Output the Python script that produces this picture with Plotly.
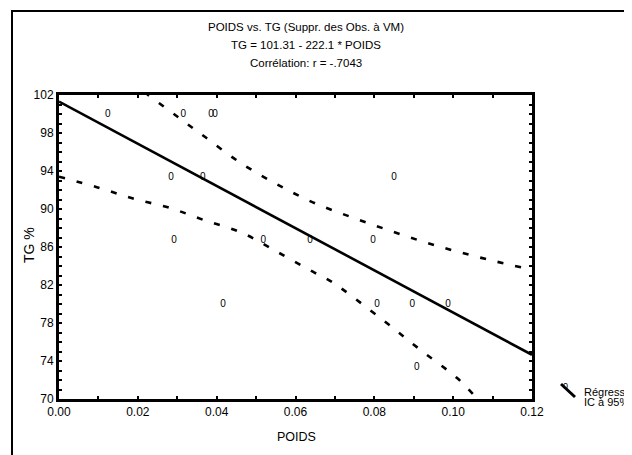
import plotly.graph_objects as go

# ---- data ----
poids = [0.0124, 0.0315, 0.0386, 0.0396,
         0.0284, 0.0365, 0.0850,
         0.0292, 0.0518, 0.0637, 0.0797,
         0.0416, 0.0807, 0.0896, 0.0987,
         0.0908]
tg = [100.0, 100.0, 100.0, 100.0,
      93.3, 93.3, 93.3,
      86.7, 86.7, 86.7, 86.7,
      80.0, 80.0, 80.0, 80.0,
      73.3]

intercept = 101.31
slope = -222.1
reg_x = [0.0, 0.12]

ci_upper_x = [0.018, 0.0223, 0.0327, 0.0370, 0.0459, 0.0553, 0.0644, 0.0738, 0.0827, 0.0921, 0.1012, 0.1106, 0.1200]
ci_upper_y = [103.4, 102.1, 98.9, 97.6, 94.9, 92.6, 90.7, 89.2, 87.9, 86.6, 85.5, 84.5, 83.6]
ci_lower_x = [0.0, 0.0096, 0.0188, 0.0282, 0.0370, 0.0464, 0.0553, 0.0644, 0.0693, 0.0822, 0.0916, 0.1010, 0.1063, 0.1080]
ci_lower_y = [93.4, 92.3, 91.1, 90.1, 88.8, 87.5, 85.5, 83.4, 82.3, 78.3, 75.2, 72.2, 70.0, 69.4]

x_ticks = [0.00, 0.02, 0.04, 0.06, 0.08, 0.10, 0.12]
y_ticks = [70, 74, 78, 82, 86, 90, 94, 98, 102]

title_lines = ["POIDS vs. TG (Suppr. des Obs. à VM)",
               "TG = 101.31 - 222.1 * POIDS",
               "Corrélation: r = -.7043"]
legend_labels = ["Régression", "IC à 95%"]

# ---- layout geometry (page pixels; the page body adds an 8px margin) ----
OFF = 8
W, H = 632 - OFF, 455 - OFF
L, R, T, B = 59 - OFF, 532 - OFF, 95 - OFF, 399 - OFF
FONT = "Liberation Sans Narrow, Arial Narrow, Liberation Sans, Arial, sans-serif"


def px(x):
    return (x - OFF - L) / (R - L)


def py(y):
    return (B - (y - OFF)) / (B - T)


fig = go.Figure()

reg_y = [intercept + slope * v for v in reg_x]
fig.add_trace(go.Scatter(x=reg_x, y=reg_y, mode="lines",
                         line=dict(color="black", width=2.6), hoverinfo="skip"))
fig.add_trace(go.Scatter(x=ci_upper_x, y=ci_upper_y, mode="lines",
                         line=dict(color="black", width=2.6, dash="6px,12px", shape="spline"),
                         hoverinfo="skip"))
fig.add_trace(go.Scatter(x=ci_lower_x, y=ci_lower_y, mode="lines",
                         line=dict(color="black", width=2.6, dash="6px,12px", shape="spline"),
                         hoverinfo="skip"))
fig.add_trace(go.Scatter(x=poids, y=tg, mode="text", text=["0"] * len(poids),
                         textposition="middle center",
                         textfont=dict(family=FONT, size=10, color="black"),
                         cliponaxis=False))

annotations = []
for i, t in enumerate(title_lines):
    annotations.append(dict(x=px(306), y=py(27 + 18 * i), xref="paper", yref="paper",
                            text=t, showarrow=False, xanchor="center", yanchor="middle",
                            font=dict(family=FONT, size=11.5, color="black")))
annotations.append(dict(x=px(296), y=py(437), xref="paper", yref="paper", text="POIDS",
                        showarrow=False, xanchor="center", yanchor="middle",
                        font=dict(family=FONT, size=12.5, color="black")))
annotations.append(dict(x=px(29), y=py(245), xref="paper", yref="paper", text="TG %",
                        showarrow=False, xanchor="center", yanchor="middle", textangle=-90,
                        font=dict(family=FONT, size=14, color="black")))
for i, t in enumerate(legend_labels):
    annotations.append(dict(x=px(582), y=py(392 + 10 * i), xref="paper", yref="paper",
                            text=t, showarrow=False, xanchor="left", yanchor="middle",
                            font=dict(family=FONT, size=11, color="black")))
annotations.append(dict(x=px(565), y=py(386), xref="paper", yref="paper", text="0",
                        showarrow=False, xanchor="center", yanchor="middle",
                        font=dict(family=FONT, size=9, color="black")))

shapes = [
    # outer frame (continues past the right and bottom edges)
    dict(type="rect", xref="paper", yref="paper", x0=px(12), x1=px(700), y0=py(600), y1=py(11),
         line=dict(color="black", width=2), fillcolor="rgba(0,0,0,0)", layer="above"),
    # legend symbol
    dict(type="line", xref="paper", yref="paper", x0=px(561), y0=py(384), x1=px(575), y1=py(397),
         line=dict(color="black", width=3)),
]

axis_common = dict(showline=True, linecolor="black", linewidth=3, mirror="ticks",
                   ticks="inside", ticklen=3, tickwidth=2, tickcolor="black",
                   showgrid=False, zeroline=False,
                   tickfont=dict(family=FONT, size=12, color="black"))

fig.update_layout(
    width=W, height=H,
    margin=dict(l=L, r=W - R, t=T, b=H - B, autoexpand=False),
    paper_bgcolor="white", plot_bgcolor="white",
    showlegend=False,
    xaxis=dict(range=[0, 0.12], tickvals=x_ticks, ticktext=[f"{v:.2f}" for v in x_ticks],
               minor=dict(dtick=0.01, tick0=0, ticks="inside", ticklen=3, tickwidth=2, tickcolor="black"),
               **axis_common),
    yaxis=dict(range=[70, 102], tickvals=y_ticks, ticktext=[str(v) for v in y_ticks],
               minor=dict(dtick=1, tick0=70, ticks="inside", ticklen=3, tickwidth=2, tickcolor="black"),
               **axis_common),
    annotations=annotations,
    shapes=shapes,
)

fig.write_html("out.html")
